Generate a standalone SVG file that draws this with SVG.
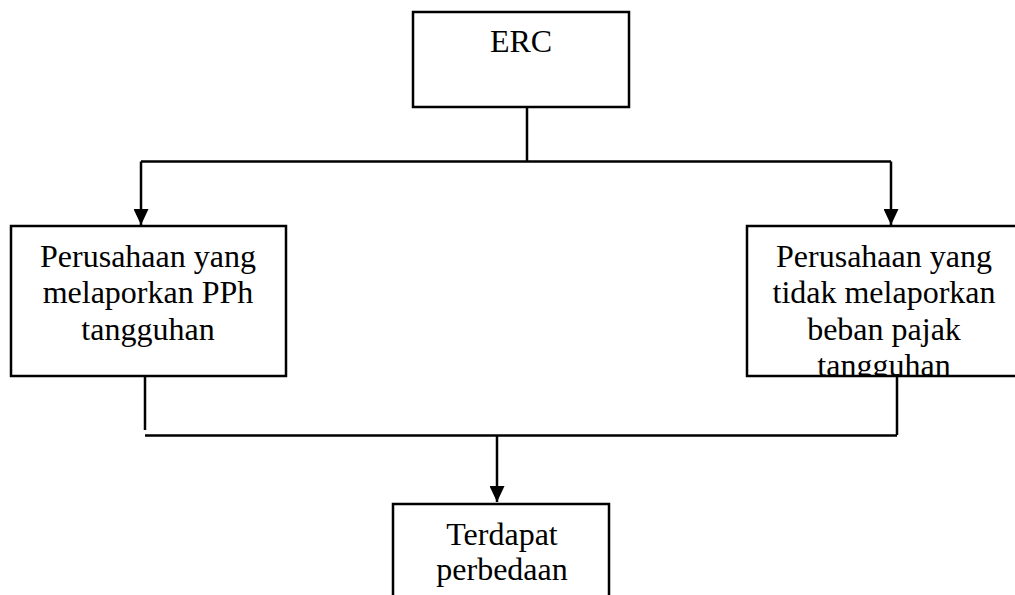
<svg xmlns="http://www.w3.org/2000/svg" width="1015" height="595" viewBox="0 0 1015 595">
<style>
.box{fill:#fff;stroke:#000;stroke-width:2.5}
.t{font-family:"Liberation Serif","Times New Roman",serif;font-size:32px;fill:#000;text-anchor:middle}
.c{fill:none;stroke:#000;stroke-width:2.5}
</style>
<defs>
<marker id="arr" markerWidth="16" markerHeight="15" refX="16" refY="7.5" orient="auto" markerUnits="userSpaceOnUse" viewBox="0 0 16 15">
<path d="M0,0 L16,7.5 L0,15 Z" fill="#000"/>
</marker>
<clipPath id="rclip"><rect x="747" y="226" width="270" height="149"/></clipPath>
</defs>
<g id="connectors">
<path class="c" d="M527,107 V161.5 M141,161.5 H891"/>
<path class="c" d="M141,161.5 V225" marker-end="url(#arr)"/>
<path class="c" d="M891,161.5 V225" marker-end="url(#arr)"/>
<path class="c" d="M145,376 V430 M897,376 V435 M145,435.5 H897"/>
<path class="c" d="M497,435.5 V502" marker-end="url(#arr)"/>
</g>
<g id="erc">
<rect class="box" x="413" y="12" width="216" height="95"/>
<text class="t" x="521" y="52">ERC</text>
</g>
<g id="left">
<rect class="box" x="11" y="226" width="275" height="150"/>
<text class="t" x="148" y="267">Perusahaan yang</text>
<text class="t" x="148" y="303">melaporkan PPh</text>
<text class="t" x="148" y="340">tangguhan</text>
</g>
<g id="right">
<rect class="box" x="747" y="226" width="280" height="150"/>
<g clip-path="url(#rclip)">
<text class="t" x="884" y="267">Perusahaan yang</text>
<text class="t" x="884" y="303">tidak melaporkan</text>
<text class="t" x="884" y="340">beban pajak</text>
<text class="t" x="884" y="376">tangguhan</text>
</g>
</g>
<g id="bottom">
<rect class="box" x="393" y="504" width="216" height="110"/>
<text class="t" x="502" y="545">Terdapat</text>
<text class="t" x="502" y="580">perbedaan</text>
</g>
</svg>
